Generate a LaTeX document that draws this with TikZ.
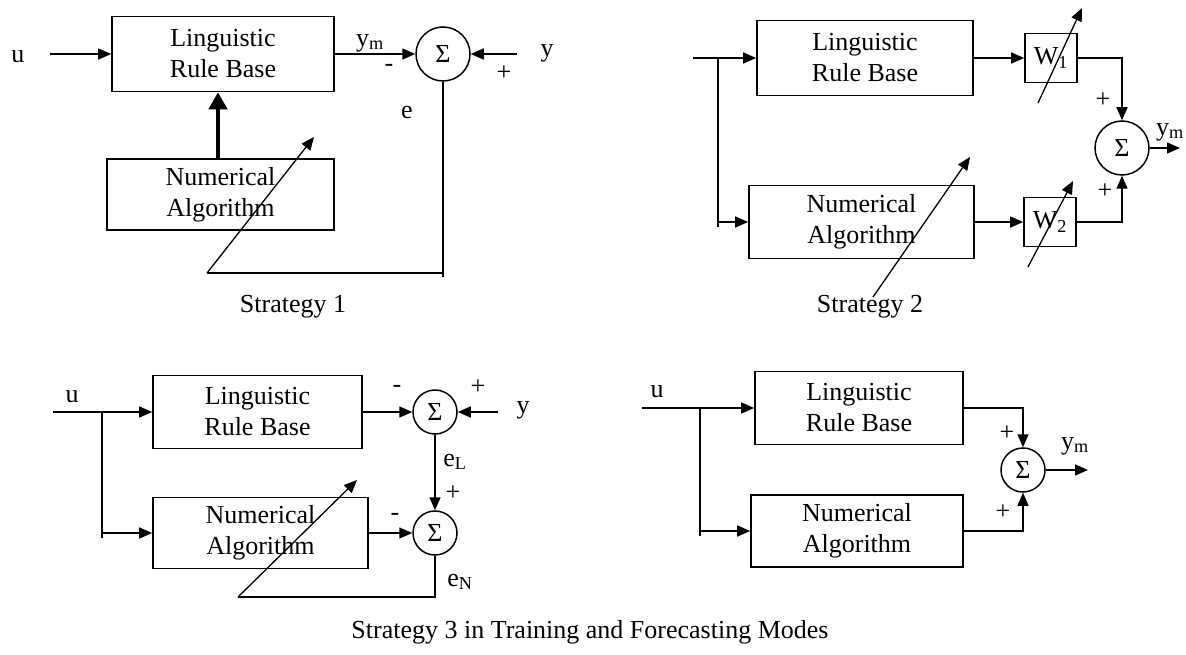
\documentclass[tikz,border=0pt]{standalone}
\usepackage{fontspec}
\setmainfont{Liberation Serif}
\usetikzlibrary{arrows.meta}

\tikzset{
  block/.style={draw, line width=1.6pt, align=center, inner sep=0pt},
  sumnode/.style={draw, circle, line width=1.5pt, inner sep=0pt},
  wire/.style={line width=1.5pt},
  feed/.style={wire, ->},
  tune/.style={line width=1.3pt, ->},
  heavy/.style={line width=4.5pt, -{Triangle[length=17pt,width=18pt]}},
}

\begin{document}
\begin{tikzpicture}[x=1pt, y=-1pt, >={Triangle[length=13pt,width=11pt]},
                    font=\fontsize{26}{31}\selectfont]
  \useasboundingbox (0,0) rectangle (1186,655);

  %--- Strategy 1
  \node[block, minimum width=222pt, minimum height=75pt] (lrbA) at (223,54) {Linguistic\\Rule Base};
  \node[block, minimum width=227pt, minimum height=71pt] (numA) at (220.5,194.5) {Numerical\\Algorithm};
  \node[sumnode, minimum size=54pt] (sumA) at (443,54) {Σ};
  \coordinate (inA) at (50,54);
  \coordinate (yinA) at (517,54);
  \coordinate (fbA) at (207,273);
  \coordinate (tipA) at (314,137);

  \draw[feed] (inA) -- (lrbA.west);
  \draw[feed] (lrbA.east) -- (sumA.west);
  \draw[feed] (yinA) -- (sumA.east);
  \draw[heavy] (numA.north -| 218,0) -- (lrbA.south -| 218,0);
  \draw[wire] (sumA.south) -- ([yshift=-4pt]sumA.south |- fbA);
  \draw[wire] (sumA.south |- fbA) -- (fbA);
  \draw[tune] (fbA) -- (tipA);

  \node (uA) at (18,57) {u};
  \node (ymA) at (370,43) {y\textsubscript{m}};
  \node (minusA) at (389,68) {-};
  \node (plusA) at (504,73) {+};
  \node (yA) at (547,53) {y};
  \node (eA) at (407,113) {e};
  \node (capA) at (293,307) {Strategy 1};

  %--- Strategy 2
  \node[block, minimum width=216pt, minimum height=75pt] (lrbB) at (865,58) {Linguistic\\Rule Base};
  \node[block, minimum width=225pt, minimum height=73pt] (numB) at (861.5,222) {Numerical\\Algorithm};
  \node[block, minimum width=52pt, minimum height=49pt] (w1B) at (1051,58) {W\textsubscript{1}};
  \node[block, minimum width=52pt, minimum height=49pt] (w2B) at (1050,222) {W\textsubscript{2}};
  \node[sumnode, minimum size=54pt] (sumB) at (1122,148) {Σ};
  \coordinate (inB) at (693,58);
  \coordinate (brB) at (718,58);
  \coordinate (outB) at (1180,148);

  \draw[feed] (inB) -- (lrbB.west);
  \draw[feed] (brB) |- (numB.west);
  \draw[wire] (brB |- numB.west) -- ++(0,5);
  \draw[feed] (lrbB.east) -- (w1B.west);
  \draw[feed] (numB.east) -- (w2B.west);
  \draw[feed] (w1B.east) -| (sumB.north);
  \draw[feed] (w2B.east) -| (sumB.south);
  \draw[feed] (sumB.east) -- (outB);
  \draw[tune] (1038,103) -- (1082,8);
  \draw[tune] (1028,267) -- (1073,181);
  \draw[tune] (873,297) -- (970,157);

  \node (ymB) at (1170,132) {y\textsubscript{m}};
  \node (plus1B) at (1103,100) {+};
  \node (plus2B) at (1105,191) {+};
  \node (capB) at (870,307) {Strategy 2};

  %--- Strategy 3, training
  \node[block, minimum width=209pt, minimum height=73pt] (lrbC) at (257.5,412) {Linguistic\\Rule Base};
  \node[block, minimum width=215pt, minimum height=71pt] (numC) at (260.5,533) {Numerical\\Algorithm};
  \node[sumnode, minimum size=44pt] (sumC1) at (435,412) {Σ};
  \node[sumnode, minimum size=44pt] (sumC2) at (435,533) {Σ};
  \coordinate (inC) at (53,412);
  \coordinate (brC) at (102,412);
  \coordinate (yinC) at (498,412);
  \coordinate (fbC) at (238,597);
  \coordinate (tipC) at (357,480);

  \draw[feed] (inC) -- (lrbC.west);
  \draw[feed] (brC) |- (numC.west);
  \draw[wire] (brC |- numC.west) -- ++(0,5);
  \draw[feed] (lrbC.east) -- (sumC1.west);
  \draw[feed] (yinC) -- (sumC1.east);
  \draw[feed] (sumC1.south) -- (sumC2.north);
  \draw[feed] (numC.east) -- (sumC2.west);
  \draw[wire] (sumC2.south) |- (fbC);
  \draw[tune] (fbC) -- (tipC);

  \node (uC) at (72,397) {u};
  \node (minus1C) at (397,389) {-};
  \node (plus1C) at (478,387) {+};
  \node (yC) at (523,410) {y};
  \node (eLC) at (455,462) {e\textsubscript{L}};
  \node (plus2C) at (453,493) {+};
  \node (minus2C) at (395,517) {-};
  \node (eNC) at (460,582) {e\textsubscript{N}};

  %--- Strategy 3, forecasting
  \node[block, minimum width=208pt, minimum height=73pt] (lrbD) at (859,408) {Linguistic\\Rule Base};
  \node[block, minimum width=212pt, minimum height=72pt] (numD) at (857,531) {Numerical\\Algorithm};
  \node[sumnode, minimum size=44pt] (sumD) at (1023,470) {Σ};
  \coordinate (inD) at (642,408);
  \coordinate (brD) at (700,408);
  \coordinate (outD) at (1088,470);

  \draw[feed] (inD) -- (lrbD.west);
  \draw[feed] (brD) |- (numD.west);
  \draw[wire] (brD |- numD.west) -- ++(0,5);
  \draw[feed] (lrbD.east) -| (sumD.north);
  \draw[feed] (numD.east) -| (sumD.south);
  \draw[feed] (sumD.east) -- (outD);

  \node (uD) at (657,392) {u};
  \node (plus1D) at (1007,433) {+};
  \node (plus2D) at (1003,512) {+};
  \node (ymD) at (1075,446) {y\textsubscript{m}};

  %--- Caption
  \node (capD) at (590,632) {Strategy 3 in Training and Forecasting Modes};
\end{tikzpicture}
\end{document}
